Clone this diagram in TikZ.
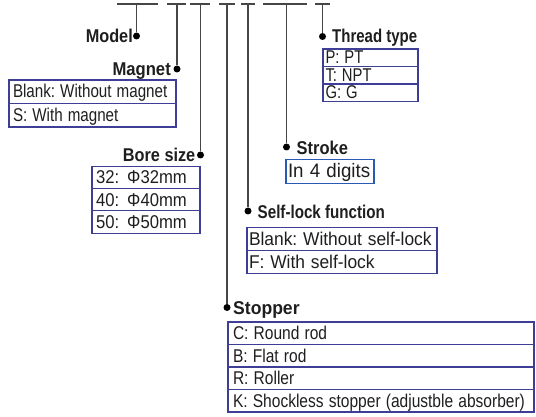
\documentclass[tikz,border=0pt]{standalone}
\usepackage{fontspec}
\setmainfont{Liberation Sans}
\usepackage{graphicx}
\definecolor{navy}{RGB}{62,62,150}
\definecolor{strokeblue}{RGB}{40,90,180}
\definecolor{wire}{RGB}{70,70,70}
\definecolor{ink}{RGB}{30,30,30}
\newcommand{\sqz}[2]{\scalebox{#1}[1]{#2}}
\frenchspacing
\begin{document}
\begin{tikzpicture}[x=1pt,y=-1pt,
  seg/.style={draw=wire, line width=2pt},
  wirev/.style={draw=wire, line width=1.1pt},
  dot/.style={circle, fill=black, inner sep=0pt, minimum size=7pt},
  lbl/.style={inner sep=0pt, text=ink, font=\fontsize{18.5}{19}\selectfont\bfseries},
  row/.style={draw=navy, line width=1.1pt, anchor=north west, outer sep=0pt,
    inner ysep=0pt, align=left, text=ink, text height=13pt, text depth=0.5pt,
    font=\fontsize{18.5}{19}\selectfont},
  magrow/.style={row, minimum height=23.5pt, inner xsep=4pt, text width=159pt},
  thrrow/.style={row, minimum height=17.5pt, inner xsep=2.5pt, text width=90pt},
  borrow/.style={row, minimum height=22.2pt, inner xsep=4pt, text width=100pt},
  strrow/.style={row, draw=strokeblue, minimum height=24pt, inner xsep=2pt, text width=84pt,
    font=\fontsize{19.5}{20}\selectfont},
  slrow/.style={row, minimum height=23pt, inner xsep=2pt, text width=186pt},
  stprow/.style={row, minimum height=22.5pt, inner xsep=5pt, text width=296pt}]
\useasboundingbox (0,0) rectangle (536,417);

% top code segments
\coordinate (a1) at (117,4); \coordinate (b1) at (158,4);
\coordinate (a2) at (167,4); \coordinate (b2) at (186,4);
\coordinate (a3) at (190,4); \coordinate (b3) at (210,4);
\coordinate (a4) at (219,4); \coordinate (b4) at (235,4);
\coordinate (a5) at (241,4); \coordinate (b5) at (255,4);
\coordinate (a6) at (263,4); \coordinate (b6) at (307,4);
\coordinate (a7) at (315,4); \coordinate (b7) at (330,4);
\foreach \i in {1,...,7} {\draw[seg] (a\i) -- (b\i);}

% tap points on segments
\coordinate (tmodel) at (136.5,4);
\coordinate (tmag) at (177,4);
\coordinate (tbore) at (200.5,4);
\coordinate (tstop) at (227,4);
\coordinate (tself) at (248,4);
\coordinate (tstroke) at (286.5,4);
\coordinate (tthread) at (322.5,4);

% dots
\node[dot] (dmodel) at (136.5,36) {};
\node[dot] (dmag) at (177,69) {};
\node[dot] (dbore) at (200.5,155) {};
\node[dot] (dstop) at (227,307.5) {};
\node[dot] (dself) at (248,211) {};
\node[dot] (dstroke) at (286.5,147) {};
\node[dot] (dthread) at (322.5,36.5) {};

\draw[wirev] (tmodel) -- (dmodel);
\draw[wirev] (tmag) -- (dmag);
\draw[wirev] (tbore) -- (dbore);
\draw[wirev] (tstop) -- (dstop);
\draw[wirev] (tself) -- (dself);
\draw[wirev] (tstroke) -- (dstroke);
\draw[wirev] (tthread) -- (dthread);

% labels
\node[lbl, anchor=base east] (lmodel) at (133,42.5) {\sqz{0.88}{Model}};
\node[lbl, anchor=base east] (lmag) at (171,75.5) {\sqz{0.9}{Magnet}};
\node[lbl, anchor=base west] (lthread) at (332,43) {\sqz{0.81}{Thread type}};
\node[lbl, anchor=base east] (lbore) at (195.5,162) {\sqz{0.88}{Bore size}};
\node[lbl, anchor=base west] (lstroke) at (296.5,154.5) {\sqz{0.89}{Stroke}};
\node[lbl, anchor=base west] (lself) at (257.5,218.5) {\sqz{0.82}{Self-lock function}};
\node[lbl, anchor=base west] (lstop) at (233,314) {\sqz{0.95}{Stopper}};

% Magnet box
\node[magrow] (m1) at (9,80) {\sqz{0.82}{Blank: Without magnet}};
\node[magrow] (m2) at (m1.south west) {\sqz{0.82}{S: With magnet}};

% Thread type box
\node[thrrow] (t1) at (323,49) {\sqz{0.8}{P: PT}};
\node[thrrow] (t2) at (t1.south west) {\sqz{0.8}{T: NPT}};
\node[thrrow] (t3) at (t2.south west) {\sqz{0.8}{G: G}};

% Bore size box
\node[borrow] (b1) at (92,166.5) {\sqz{0.9}{32:\hspace{9pt}Φ32mm}};
\node[borrow] (b2) at (b1.south west) {\sqz{0.9}{40:\hspace{9pt}Φ40mm}};
\node[borrow] (b3) at (b2.south west) {\sqz{0.9}{50:\hspace{9pt}Φ50mm}};

% Stroke box
\node[strrow] (s1) at (286,159.3) {\sqz{0.96}{In 4 digits}};

% Self-lock box
\node[slrow] (f1) at (247,227.7) {\sqz{0.94}{Blank: Without self-lock}};
\node[slrow] (f2) at (f1.south west) {\sqz{0.94}{F: With self-lock}};

% Stopper box
\node[stprow] (p1) at (228,322) {\sqz{0.84}{C: Round rod}};
\node[stprow] (p2) at (p1.south west) {\sqz{0.84}{B: Flat rod}};
\node[stprow] (p3) at (p2.south west) {\sqz{0.84}{R: Roller}};
\node[stprow] (p4) at (p3.south west) {\sqz{0.84}{K: Shockless stopper (adjustble absorber)}};
\end{tikzpicture}
\end{document}
